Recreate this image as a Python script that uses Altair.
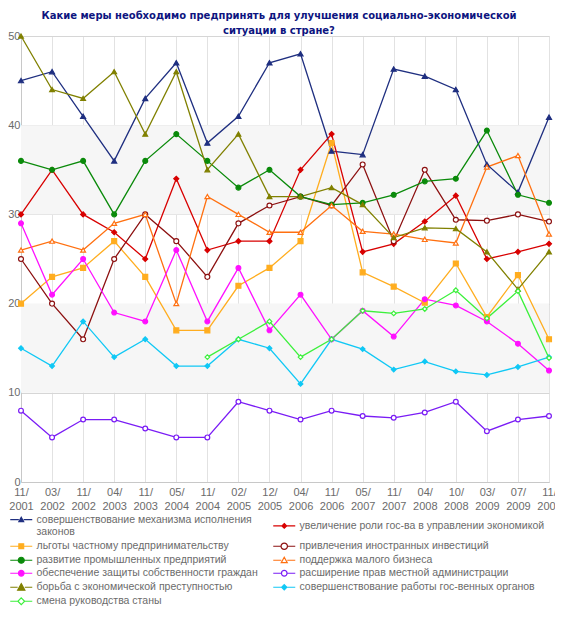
import altair as alt
import pandas as pd

dates = ["11/2001", "03/2002", "11/2002", "04/2003", "11/2003", "05/2004",
         "11/2004", "02/2005", "12/2005", "04/2006", "11/2006", "05/2007",
         "11/2007", "04/2008", "10/2008", "03/2009", "07/2009", "11/2009"]

names = [
    "совершенствование механизма исполнения законов",
    "увеличение роли гос-ва в управлении экономикой",
    "льготы частному предпринимательству",
    "привлечения иностранных инвестиций",
    "развитие промышленных предприятий",
    "поддержка малого бизнеса",
    "обеспечение защиты собственности граждан",
    "расширение прав местной администрации",
    "борьба с экономической преступностью",
    "совершенствование работы гос-венных органов",
    "смена руководства станы",
]

zakony = [45, 46, 41, 36, 43, 47, 38, 41, 47, 48, 37.1, 36.7, 46.3, 45.5, 44.0, 35.6, 32.5, 40.9]
rol_gos = [30, 35, 30, 28, 25, 34, 26, 27, 27, 35, 39, 25.8, 26.7, 29.2, 32.1, 25.0, 25.8, 26.7]
lgoty = [20, 23, 24, 27, 23, 17, 17, 22, 24, 27, 38, 23.5, 21.9, 20.1, 24.5, 18.5, 23.2, 16.0]
investicii = [25, 20, 16, 25, 30, 27, 23, 29, 31, 32, 31, 35.6, 27.0, 35.0, 29.4, 29.3, 30.0, 29.2]
promyshl = [36, 35, 36, 30, 36, 39, 36, 33, 35, 32, 31.1, 31.3, 32.2, 33.7, 34.0, 39.4, 32.2, 31.3]
maly_biznes = [26, 27, 26, 29, 30, 20, 32, 30, 28, 28, 31, 28.1, 27.8, 27.2, 26.8, 35.3, 36.6, 27.8]
sobstvennost = [29, 21, 25, 19, 18, 26, 18, 24, 17, 21, 16, 19.2, 16.3, 20.5, 19.8, 18.0, 15.5, 12.5]
mestnaya = [8, 5, 7, 7, 6, 5, 5, 9, 8, 7, 8, 7.4, 7.2, 7.8, 9.0, 5.7, 7.0, 7.4]
prestupnost = [50, 44, 43, 46, 39, 46, 35, 39, 32, 32, 33, 31.1, 27.4, 28.5, 28.4, 25.8, 21.6, 25.8]
gos_organy = [15, 13, 18, 14, 16, 13, 13, 16, 15, 11, 16, 14.9, 12.6, 13.5, 12.4, 12.0, 12.9, 14.0]
smena = [None, None, None, None, None, None, 14, 16, 18, 14, 16, 19.2, 18.9, 19.4, 21.5, 18.35, 21.4, 13.9]

series_values = [zakony, rol_gos, lgoty, investicii, promyshl, maly_biznes,
                 sobstvennost, mestnaya, prestupnost, gos_organy, smena]

colors = ["#1f2f80", "#d80000", "#ffad1f", "#8c1010", "#0a8a0a", "#ff7010",
          "#ff10ff", "#7a1cf5", "#808000", "#10c8f5", "#3cf03c"]
hollow = [False, False, False, True, False, True, False, True, False, False, True]
fills = ["white" if h else c for c, h in zip(colors, hollow)]
shapes = ["triangle-up", "diamond", "square", "circle", "circle", "triangle-up",
          "circle", "circle", "triangle-up", "diamond", "diamond"]
sizes = [25, 22, 25, 36, 34, 34, 26, 24, 64, 30, 60]

band_lo = [10, 30]
band_hi = [20, 40]


def tri(h):
    return f"M0,{-h}L{h},{0.8*h}L{-h},{0.8*h}Z"


def dia(h):
    return f"M0,{-h}L{h},0L0,{h}L{-h},0Z"


def sq(h):
    return f"M{-h},{-h}L{h},{-h}L{h},{h}L{-h},{h}Z"


def circ(h):
    return f"M{-h},0A{h},{h} 0 1,0 {h},0A{h},{h} 0 1,0 {-h},0Z"


HALF = 2.75  # half line length in symbol units (1 unit = 4 px)


def with_line(marker, h):
    return f"M{-HALF},0L{-h},0M{h},0L{HALF},0" + marker


leg_h = [0.6, 0.6, 0.6, 0.8, 0.75, 0.75, 0.7, 0.7, 0.9, 0.65, 0.85]
leg_fn = [tri, dia, sq, circ, circ, tri, circ, circ, tri, dia, dia]
leg_shapes = [with_line(f(h), h) for f, h in zip(leg_fn, leg_h)]

# legend fills columns top-to-bottom: reorder so it reads row by row
leg_order = [0, 2, 4, 6, 8, 10, 1, 3, 5, 7, 9]
leg_names = [names[i] for i in leg_order]
leg_colors = [colors[i] for i in leg_order]
leg_fills = [fills[i] for i in leg_order]
leg_shapes = [leg_shapes[i] for i in leg_order]

rows = []
for name, vals in zip(names, series_values):
    for d, v in zip(dates, vals):
        if v is not None:
            rows.append({"series": name, "date": d, "value": v})
df = pd.DataFrame(rows)
bands = pd.DataFrame({"lo": band_lo, "hi": band_hi})

W, H = 528, 446
FONT = "Liberation Sans"
GREY = "#6b6b6b"

x_enc = alt.X("date:N", sort=dates, title=None,
              scale=alt.Scale(type="point", padding=0),
              axis=alt.Axis(labelAngle=0, ticks=False, grid=True, gridColor="#e2e2e2",
                            domainColor="#c8c8c8", labelFont=FONT, labelFontSize=11,
                            labelColor=GREY, labelPadding=4, labelLineHeight=14,
                            labelExpr="[slice(datum.value, 0, 3), slice(datum.value, 3)]",
                            labelOverlap=False))
y_scale = alt.Scale(domain=[0, 50], nice=False)
y_axis = alt.Axis(values=[0, 10, 20, 30, 40, 50], ticks=False, grid=True,
                  gridColor="#d6d6d6", domainColor="#c8c8c8", labelFont=FONT,
                  labelFontSize=11, labelColor=GREY, labelPadding=1)

band_layer = alt.Chart(bands).mark_rect(color="#f6f6f6").encode(
    x=alt.value(0), x2=alt.value(W),
    y=alt.Y("lo:Q", scale=y_scale, axis=y_axis, title=None),
    y2="hi:Q",
)

line_layer = alt.Chart(df).mark_line(strokeWidth=1.3).encode(
    x=x_enc,
    y=alt.Y("value:Q", scale=y_scale, title=None),
    stroke=alt.Stroke("series:N", scale=alt.Scale(domain=names, range=colors), legend=None),
    detail="series:N",
)

point_layer = alt.Chart(df).mark_point(strokeWidth=1.2, opacity=1).encode(
    x=x_enc,
    y=alt.Y("value:Q", scale=y_scale, title=None),
    stroke=alt.Stroke("series:N", scale=alt.Scale(domain=names, range=colors), legend=None),
    fill=alt.Fill("series:N", scale=alt.Scale(domain=names, range=fills), legend=None),
    shape=alt.Shape("series:N", scale=alt.Scale(domain=names, range=shapes), legend=None),
    size=alt.Size("series:N", scale=alt.Scale(domain=names, range=sizes), legend=None),
)

leg = alt.Legend(
    orient="none", legendX=-5, legendY=478, columns=2, columnPadding=12,
    rowPadding=2, padding=0, title=None, labelFont=FONT, labelFontSize=10.5,
    labelColor=GREY, labelLimit=400, labelOffset=10, symbolSize=64,
    symbolStrokeWidth=1.2, symbolOpacity=1,
    labelExpr=("datum.label == '" + names[0] + "' ? "
               "['совершенствование механизма исполнения', 'законов'] : datum.label"),
)

legend_layer = alt.Chart(df).transform_filter("datum.value < -100").mark_point(
    strokeWidth=1.2, opacity=1
).encode(
    stroke=alt.Stroke("series:N", scale=alt.Scale(domain=leg_names, range=leg_colors), legend=leg),
    fill=alt.Fill("series:N", scale=alt.Scale(domain=leg_names, range=leg_fills), legend=leg),
    shape=alt.Shape("series:N", scale=alt.Scale(domain=leg_names, range=leg_shapes), legend=leg),
)

chart = alt.layer(band_layer, line_layer, point_layer, legend_layer).resolve_scale(
    stroke="independent", fill="independent", shape="independent", size="independent"
).properties(
    width=W, height=H,
    title=alt.Title(
        text=["Какие меры необходимо предпринять для улучшения социально-экономической",
              "ситуации в стране?"],
        font="DejaVu Sans", fontSize=10, fontWeight="bold", color="#0d1580",
        anchor="middle", offset=0, lineHeight=15, dx=-6, dy=6,
    ),
    autosize=alt.AutoSizeParams(type="none"),
    padding={"left": 13, "top": 28, "right": 6, "bottom": 127},
).configure_view(stroke="#c8c8c8").configure(background="white")

chart.save("out.html", embed_options={"renderer": "svg", "actions": False})
